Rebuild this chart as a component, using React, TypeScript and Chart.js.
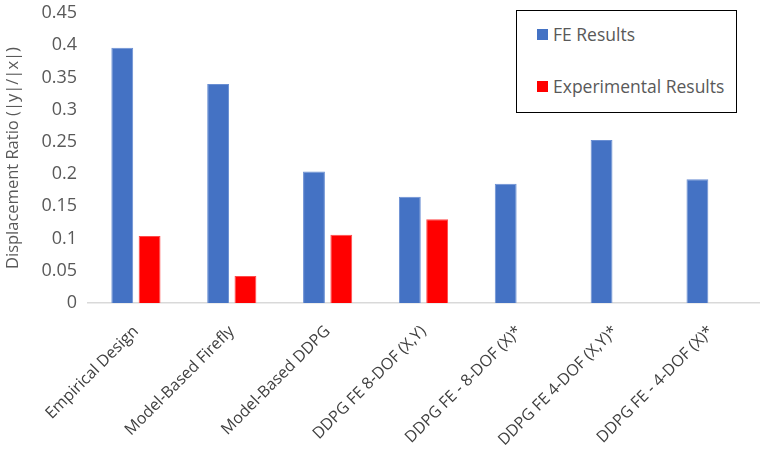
import { useEffect, useRef } from 'react';
import { Chart, registerables } from 'chart.js';

Chart.register(...registerables);

const categories = [
  'Empirical Design',
  'Model-Based Firefly',
  'Model-Based DDPG',
  'DDPG FE 8-DOF (X,Y)',
  'DDPG FE - 8-DOF (X)*',
  'DDPG FE 4-DOF (X,Y)*',
  'DDPG FE - 4-DOF (X)*',
];
const feResults = [0.396, 0.34, 0.204, 0.165, 0.185, 0.253, 0.192];
const experimentalResults = [0.104, 0.042, 0.106, 0.13, null, null, null];
const seriesNames = ['FE Results', 'Experimental Results'];
const seriesColors = ['#4472C4', '#FF0000'];

const FONT = '"Open Sans", "Noto Sans", sans-serif';
const TEXT = '#595959';

export default function App() {
  const canvasRef = useRef<HTMLCanvasElement>(null);
  const chartRef = useRef<Chart | null>(null);

  useEffect(() => {
    if (!canvasRef.current) return;
    if (chartRef.current) chartRef.current.destroy();

    chartRef.current = new Chart(canvasRef.current, {
      type: 'bar',
      data: {
        labels: categories,
        datasets: [
          {
            label: seriesNames[0],
            data: feResults,
            backgroundColor: seriesColors[0],
            borderColor: '#6a8fd3',
            borderWidth: 1,
            categoryPercentage: 0.57,
            barPercentage: 0.8,
          },
          {
            label: seriesNames[1],
            data: experimentalResults,
            backgroundColor: seriesColors[1],
            borderColor: '#ff4a4a',
            borderWidth: 1,
            categoryPercentage: 0.57,
            barPercentage: 0.8,
          },
        ],
      },
      options: {
        responsive: true,
        maintainAspectRatio: false,
        animation: false,
        layout: { padding: { top: 0, right: 6, left: 0, bottom: 0 } },
        plugins: {
          legend: { display: false },
          tooltip: { enabled: false },
        },
        scales: {
          x: {
            grid: { display: false, drawTicks: false },
            border: { display: true, color: '#d9d9d9', width: 1.5 },
            ticks: {
              color: '#404040',
              font: { family: FONT, size: 16 },
              maxRotation: 45,
              minRotation: 45,
              padding: 19,
            },
            afterFit: (scale) => {
              scale.height = 158;
            },
          },
          y: {
            min: 0,
            max: 0.45,
            grid: { display: false, drawTicks: false },
            border: { display: false },
            ticks: {
              stepSize: 0.05,
              color: TEXT,
              font: { family: FONT, size: 18 },
              padding: 11,
              callback: (v) => String(Math.round(Number(v) * 100) / 100),
            },
            title: {
              display: true,
              text: 'Displacement Ratio (|y|/|x|)',
              color: TEXT,
              font: { family: FONT, size: 16.5 },
              padding: { top: 3, bottom: 0 },
            },
            afterFit: (scale) => {
              scale.width = 88;
              scale.paddingTop = 13;
            },
          },
        },
      },
    });

    return () => {
      if (chartRef.current) {
        chartRef.current.destroy();
        chartRef.current = null;
      }
    };
  }, []);

  return (
    <div
      style={{
        position: 'fixed',
        left: 0,
        top: 0,
        width: 765,
        height: 461,
        background: '#ffffff',
      }}
    >
      <canvas ref={canvasRef}></canvas>
      <div
        style={{
          position: 'absolute',
          left: 516,
          top: 10,
          width: 219,
          height: 101,
          border: '1.5px solid #000000',
          background: '#ffffff',
          fontFamily: FONT,
          fontSize: 17.5,
          color: TEXT,
        }}
      >
        {seriesNames.map((name, i) => (
          <div
            key={name}
            style={{
              position: 'absolute',
              left: 20,
              top: i === 0 ? 11 : 63,
              display: 'flex',
              alignItems: 'center',
              whiteSpace: 'nowrap',
            }}
          >
            <span
              style={{
                display: 'inline-block',
                width: 11,
                height: 11,
                background: seriesColors[i],
                marginRight: 5,
              }}
            ></span>
            {name}
          </div>
        ))}
      </div>
    </div>
  );
}
